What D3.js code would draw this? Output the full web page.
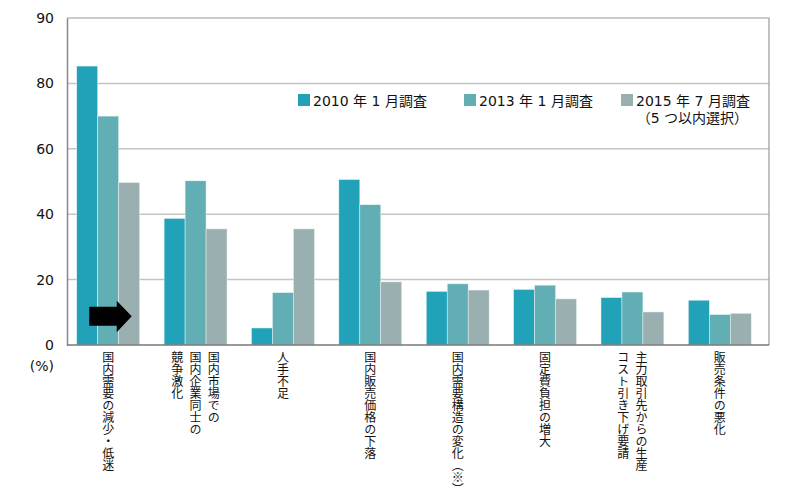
<!DOCTYPE html>
<html>
<head>
<meta charset="utf-8">
<script src="https://cdn.jsdelivr.net/npm/d3@7"></script>
<style>
  body { margin: 0; background: #fff; }
  svg text { font-family: "DejaVu Sans", "Noto Sans CJK JP", sans-serif; fill: #111; }
  .cat { font-family: "Noto Sans CJK JP", sans-serif; font-size: 12px; writing-mode: vertical-rl; text-orientation: mixed; }
</style>
</head>
<body>
<svg id="chart" width="800" height="500"></svg>
<script>
// categories: each entry is the list of vertical columns, read right to left
const categories = [
  ["国内需要の減少・低迷"],
  ["国内市場での", "国内企業同士の", "競争激化"],
  ["人手不足"],
  ["国内販売価格の下落"],
  ["国内需要構造の変化（※）"],
  ["固定費負担の増大"],
  ["主力取引先からの生産", "コスト引き下げ要請"],
  ["販売条件の悪化"]
];
const seriesNames = ["2010 年 1 月調査", "2013 年 1 月調査", "2015 年 7 月調査"];
const legendNote = "（5 つ以内選択）";
const v2010 = [85.3, 38.7, 5.2, 50.6, 16.4, 17.0, 14.5, 13.7];
const v2013 = [70.0, 50.2, 16.0, 42.9, 18.7, 18.3, 16.2, 9.3];
const v2015 = [49.7, 35.5, 35.5, 19.3, 16.8, 14.1, 10.1, 9.7];
// the top gridline of the original is labelled "90"
const yTicks = [0, 20, 40, 60, 80, 100];
const yTickLabels = ["0", "20", "40", "60", "80", "90"];
const colors = ["#21a2b8", "#62aeb5", "#9ab0b0"];

const svg = d3.select("#chart");
const plotL = 67, plotR = 769, plotT = 18, plotB = 345;

const x0 = d3.scaleBand()
  .domain(d3.range(categories.length))
  .range([64.5, 763.5])
  .paddingInner(0.28)
  .paddingOuter(0.14);
const x1 = d3.scaleBand()
  .domain(d3.range(seriesNames.length))
  .range([0, x0.bandwidth()]);
const y = d3.scaleLinear().domain([0, 100]).range([plotB, plotT]);

// grid lines
svg.append("g")
  .selectAll("line")
  .data(yTicks.slice(1, -1))
  .join("line")
  .attr("x1", plotL).attr("x2", plotR)
  .attr("y1", d => y(d)).attr("y2", d => y(d))
  .attr("stroke", "#c4c4c4")
  .attr("stroke-width", 1.5);

// frame top / right
svg.append("path")
  .attr("d", `M${plotL},${y(100)}H${plotR}V${y(0)}`)
  .attr("fill", "none")
  .attr("stroke", "#9a9a9a")
  .attr("stroke-width", 1.2);

const allValues = [v2010, v2013, v2015];
const rows = categories.map((c, i) => allValues.map((vals, s) => ({ i, s, v: vals[i] })));

svg.append("g")
  .selectAll("g")
  .data(rows)
  .join("g")
  .attr("transform", (d, i) => `translate(${x0(i)},0)`)
  .selectAll("rect")
  .data(d => d)
  .join("rect")
  .attr("x", d => x1(d.s))
  .attr("width", x1.bandwidth())
  .attr("y", d => y(d.v))
  .attr("height", d => y(0) - y(d.v))
  .attr("fill", d => colors[d.s])
  .attr("stroke", "#e8f4f4")
  .attr("stroke-width", 0.5);

// axes
svg.append("g")
  .attr("transform", `translate(${plotL},0)`)
  .call(d3.axisLeft(y).tickValues(yTicks)
    .tickFormat((d, i) => yTickLabels[i])
    .tickSize(0).tickPadding(13))
  .call(g => g.select(".domain").attr("stroke", "#888").attr("stroke-width", 1.5))
  .call(g => g.selectAll("text").style("font-size", "14px").attr("fill", "#111"));

svg.append("line")
  .attr("x1", plotL).attr("x2", plotR)
  .attr("y1", y(0)).attr("y2", y(0))
  .attr("stroke", "#777").attr("stroke-width", 1.5);

svg.append("text")
  .attr("x", 54).attr("y", 371)
  .attr("text-anchor", "end")
  .style("font-size", "14px")
  .text("(%)");

// arrow annotation in first group
const ax = x0(0);
const ay = y(8.8);
svg.append("path")
  .attr("d", `M${ax + 12.5},${ay - 9.5}H${ax + 40}V${ay - 15.5}L${ax + 55},${ay}L${ax + 40},${ay + 16}V${ay + 9.5}H${ax + 12.5}Z`)
  .attr("fill", "#000");

// category labels (vertical)
const colStep = 18.3;
const labels = svg.append("g");
categories.forEach((cols, i) => {
  const cx = x0(i) + x0.bandwidth() / 2;
  cols.forEach((t, k) => {
    labels.append("text")
      .attr("class", "cat")
      .attr("x", cx + ((cols.length - 1) / 2 - k) * colStep)
      .attr("y", 351)
      .text(t);
  });
});

// legend
const legendX = [298, 464, 621];
const lg = svg.append("g");
seriesNames.forEach((n, s) => {
  lg.append("rect")
    .attr("x", legendX[s]).attr("y", 94)
    .attr("width", 12).attr("height", 12)
    .attr("fill", colors[s]);
  lg.append("text")
    .attr("x", legendX[s] + 15).attr("y", 106)
    .style("font-size", "14px")
    .text(n);
});
lg.append("text")
  .attr("x", 748).attr("y", 123)
  .attr("text-anchor", "end")
  .style("font-size", "14px")
  .text(legendNote);
</script>
</body>
</html>
